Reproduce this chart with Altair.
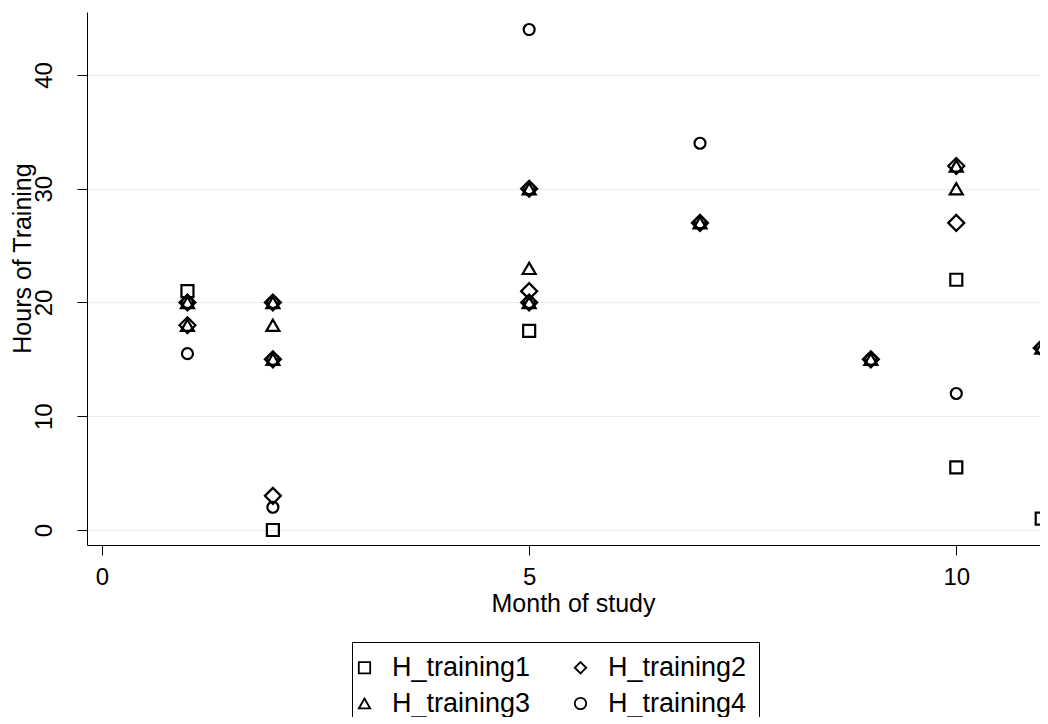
import altair as alt
import pandas as pd

# ---- data ----
series_names = ["H_training1", "H_training2", "H_training3", "H_training4"]

h1_month = [1, 2, 5, 10, 10, 11]
h1_hours = [21, 0, 17.5, 22, 5.5, 1]

h2_month = [1, 1, 2, 2, 2, 5, 5, 5, 7, 9, 10, 10, 11]
h2_hours = [20, 18, 20, 15, 3, 30, 21, 20, 27, 15, 32, 27, 16]

h3_month = [1, 1, 2, 2, 2, 5, 5, 5, 7, 9, 10, 10, 11]
h3_hours = [20, 18, 20, 18, 15, 30, 23, 20, 27, 15, 32, 30, 16]

h4_month = [1, 1, 2, 2, 2, 5, 5, 5, 7, 7, 9, 10, 11]
h4_hours = [20, 15.5, 20, 15, 2, 44, 30, 20, 34, 27, 15, 12, 16]

x_ticks = [0, 5, 10]
y_ticks = [0, 10, 20, 30, 40]

rows = []
for name, ms, hs in zip(series_names,
                        [h1_month, h2_month, h3_month, h4_month],
                        [h1_hours, h2_hours, h3_hours, h4_hours]):
    for m, h in zip(ms, hs):
        rows.append({"month": m, "hours": h, "series": name})
df = pd.DataFrame(rows)

FONT = "Liberation Sans"
PLOT_W, PLOT_H = 953, 533

x_enc = alt.X(
    "month:Q",
    scale=alt.Scale(domain=[-0.176, 10.98], nice=False, zero=False),
    axis=alt.Axis(
        values=x_ticks, title="Month of study", grid=False,
        labelAngle=0, labelBaseline="top", labelPadding=10, labelFontSize=24,
        tickSize=10, tickColor="black", domainColor="black", labelColor="black",
        titleFontSize=25, titleFontWeight="normal", titleColor="black",
        titleX=486, titleY=66, titleAlign="center", titleBaseline="alphabetic",
    ),
)
y_enc = alt.Y(
    "hours:Q",
    scale=alt.Scale(domain=[-1.32, 45.54], nice=False, zero=False),
    axis=alt.Axis(
        values=y_ticks, title="Hours of Training", grid=True,
        gridColor="#e6eff1", gridWidth=1.2,
        labelAngle=270, labelAlign="center", labelBaseline="alphabetic",
        labelPadding=26, labelFontSize=24,
        tickSize=10, tickColor="black", domainColor="black", labelColor="black",
        titleFontSize=25, titleFontWeight="normal", titleColor="black",
        titleAngle=270, titleX=-57, titleY=246, titleAlign="center",
        titleBaseline="alphabetic",
    ),
)
shape_enc = alt.Shape(
    "series:N",
    scale=alt.Scale(domain=series_names,
                    range=["square", "diamond", "triangle-up", "circle"]),
    legend=alt.Legend(
        title=None, orient="none", legendX=265, legendY=630, columns=2,
        direction="horizontal",
        padding=12, rowPadding=8, columnPadding=40, labelOffset=14,
        symbolOffset=-13,
        labelFontSize=27, labelColor="black", symbolSize=130,
        symbolStrokeWidth=1.8, symbolStrokeColor="black",
        strokeColor="black",
    ),
)

sizes = {"H_training1": 144, "H_training2": 256, "H_training3": 169, "H_training4": 121}

layers = []
for name in series_names:
    layers.append(
        alt.Chart(df)
        .transform_filter(alt.datum.series == name)
        .mark_point(filled=False, color="black", strokeWidth=2.2, size=sizes[name], opacity=1)
        .encode(x=x_enc, y=y_enc, shape=shape_enc)
    )

chart = (
    alt.layer(*layers)
    .properties(
        width=PLOT_W, height=PLOT_H,
        autosize=alt.AutoSizeParams(type="none"),
        padding={"left": 79, "top": 4, "right": 0, "bottom": 172},
        background="white",
    )
    .configure(font=FONT)
    .configure_view(stroke=None)
)

chart.save("out.html", embed_options={"renderer": "svg", "actions": False})
